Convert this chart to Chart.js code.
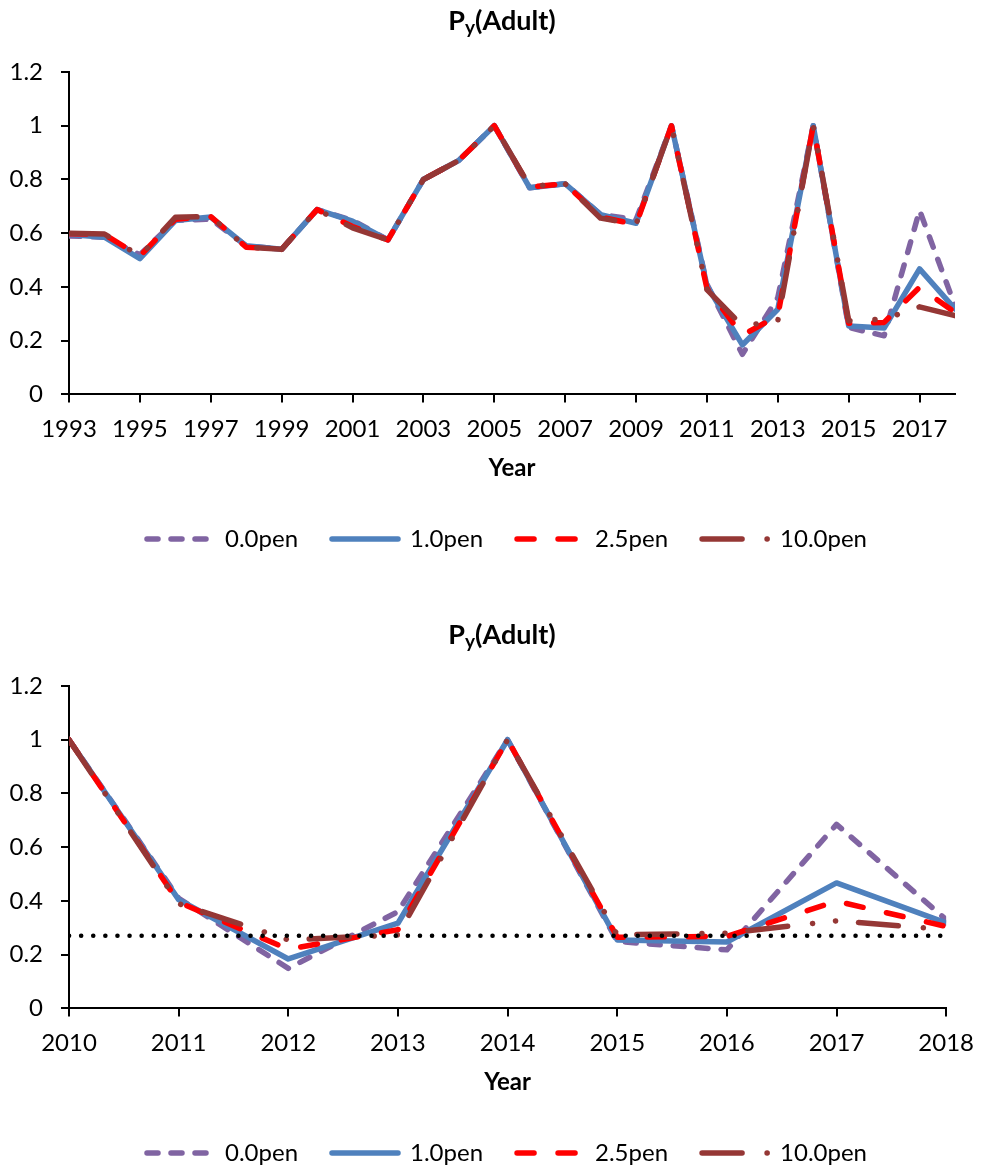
<!DOCTYPE html>
<html>
<head>
<meta charset="utf-8">
<script src="https://cdn.jsdelivr.net/npm/chart.js@4.4.1/dist/chart.umd.min.js"></script>
<style>
  html,body{margin:0;padding:0;background:#fff;overflow:hidden;}
  .wrap{position:absolute;left:0;width:986px;height:561px;}
  #top-wrap{top:0;}
  #bottom-wrap{top:614px;}
</style>
</head>
<body>
<div class="wrap" id="top-wrap"><canvas id="chart-top" width="986" height="561"></canvas></div>
<div class="wrap" id="bottom-wrap"><canvas id="chart-bottom" width="986" height="561"></canvas></div>
<script>
'use strict';

// years 1993..2018
const years=[1993,1994,1995,1996,1997,1998,1999,2000,2001,2002,2003,2004,2005,
  2006,2007,2008,2009,2010,2011,2012,2013,2014,2015,2016,2017,2018];

const pen00=[0.59,0.585,0.52,0.648,0.652,0.553,0.54,0.688,0.648,0.575,0.8,0.871,1.0,
  0.769,0.784,0.67,0.65,1.0,0.41,0.149,0.36,1.0,0.249,0.218,0.685,0.33];
const pen10=[0.595,0.585,0.505,0.647,0.66,0.553,0.54,0.688,0.645,0.575,0.8,0.871,1.0,
  0.769,0.784,0.669,0.637,1.0,0.405,0.184,0.317,1.0,0.255,0.247,0.467,0.318];
const pen25=[0.598,0.595,0.515,0.652,0.662,0.548,0.54,0.688,0.625,0.575,0.8,0.871,1.0,
  0.772,0.784,0.66,0.632,1.0,0.395,0.22,0.293,1.0,0.265,0.268,0.399,0.305];
const pen100=[0.6,0.597,0.515,0.659,0.662,0.548,0.54,0.688,0.62,0.575,0.8,0.871,1.0,
  0.775,0.784,0.656,0.633,1.0,0.39,0.255,0.274,1.0,0.274,0.28,0.326,0.293];

const seriesLabels=['0.0pen','1.0pen','2.5pen','10.0pen'];
const refLevel=0.27;

const yTicks=[0,0.2,0.4,0.6,0.8,1,1.2];
const topXTicks=[1993,1995,1997,1999,2001,2003,2005,2007,2009,2011,2013,2015,2017];
const bottomXTicks=[2010,2011,2012,2013,2014,2015,2016,2017,2018];

const FONT='Lato';
Chart.defaults.font.family=FONT;
Chart.defaults.color='#000';

const styles=[
  {color:'#8064A2',dash:[11,13]},
  {color:'#4F81BD',dash:[]},
  {color:'#FF0000',dash:[17,24]},
  {color:'#953735',dash:[40,25,0.1,23,0.1,23]},
];

// title with subscript y, drawn as text on the canvas
const subTitle={
  id:'subTitle',
  afterDraw(chart){
    const ctx=chart.ctx;
    const main='P',sub='y',rest='(Adult)';
    const big='bold 27px '+FONT,small='bold 19px '+FONT;
    ctx.save();
    ctx.fillStyle='#000';
    ctx.textBaseline='alphabetic';
    ctx.font=big;
    const wm=ctx.measureText(main).width,wr=ctx.measureText(rest).width;
    ctx.font=small;
    const ws=ctx.measureText(sub).width;
    let x=502-(wm+ws+wr)/2;
    const y=30;
    ctx.font=big;ctx.fillText(main,x,y);x+=wm;
    ctx.font=small;ctx.fillText(sub,x,y+4);x+=ws;
    ctx.font=big;ctx.fillText(rest,x,y);
    ctx.restore();
  }
};

// the legend sits a little right of the canvas centre in the original
const shiftLegend={
  id:'shiftLegend',
  afterLayout(chart){
    const lg=chart.legend;
    if(lg){lg.left+=14;lg.right+=14;}
  }
};

function series(vals,from,to){
  const out=[];
  years.forEach((yr,i)=>{if(yr>=from&&yr<=to)out.push({x:yr,y:vals[i]});});
  return out;
}

function makeChart(canvas,from,to,xTicks,withRef){
  const all=[pen00,pen10,pen25,pen100];
  const datasets=all.map((vals,i)=>({
    label:seriesLabels[i],
    data:series(vals,from,to),
    borderColor:styles[i].color,
    backgroundColor:styles[i].color,
    borderDash:styles[i].dash,
    borderWidth:5.5,
    borderCapStyle:'round',
    borderJoinStyle:'round',
    pointRadius:0,
    pointHoverRadius:0,
    tension:0,
    order:4-i,
  }));
  if(withRef){
    datasets.push({
      label:'ref',
      data:[{x:from,y:refLevel},{x:to,y:refLevel}],
      borderColor:'#000',
      borderDash:[0.1,12],
      borderWidth:4.5,
      borderCapStyle:'round',
      pointRadius:0,
      pointHoverRadius:0,
      order:0,
    });
  }
  const axisTitle={display:true,text:'Year',font:{size:24,weight:'bold'},padding:{top:-1,bottom:10}};
  return new Chart(canvas,{
    type:'line',
    data:{datasets},
    options:{
      responsive:false,
      animation:false,
      devicePixelRatio:1,
      layout:{padding:{top:72,left:0,right:0,bottom:0}},
      scales:{
        x:{
          type:'linear',min:from,max:to,
          afterBuildTicks:(axis)=>{axis.ticks=xTicks.map(v=>({value:v}));},
          ticks:{callback:(v)=>String(v),font:{size:24},padding:12,maxRotation:0,autoSkip:false},
          grid:{drawOnChartArea:false,drawTicks:true,tickLength:8,color:'#000',lineWidth:2},
          border:{display:true,color:'#000',width:2},
          title:axisTitle,
        },
        y:{
          min:0,max:1.2,
          afterBuildTicks:(axis)=>{axis.ticks=yTicks.map(v=>({value:v}));},
          afterFit:(axis)=>{axis.width=69;},
          ticks:{callback:(v)=>String(v),font:{size:24},padding:18},
          grid:{drawOnChartArea:false,drawTicks:true,tickLength:8,color:'#000',lineWidth:2},
          border:{display:true,color:'#000',width:2},
        },
        yRight:{
          position:'right',
          display:true,
          afterFit:(axis)=>{axis.width=31;},
          ticks:{display:false},
          grid:{display:false},
          border:{display:false},
        },
      },
      plugins:{
        title:{display:false},
        tooltip:{enabled:false},
        legend:{
          position:'bottom',
          labels:{
            usePointStyle:true,
            pointStyleWidth:66,
            padding:34,
            font:{size:24},
            color:'#000',
            generateLabels:(chart)=>chart.data.datasets.slice(0,4).map((ds,i)=>({
              text:ds.label,
              fillStyle:ds.borderColor,
              strokeStyle:ds.borderColor,
              lineWidth:ds.borderWidth,
              lineDash:ds.borderDash,
              lineCap:'round',
              lineJoin:'round',
              pointStyle:'line',
              rotation:180,
              hidden:false,
              datasetIndex:i,
              fontColor:'#000',
            })),
          },
        },
      },
    },
    plugins:[subTitle,shiftLegend],
  });
}

makeChart(document.getElementById('chart-top'),1993,2018,topXTicks,false);
makeChart(document.getElementById('chart-bottom'),2010,2018,bottomXTicks,true);
</script>
</body>
</html>
